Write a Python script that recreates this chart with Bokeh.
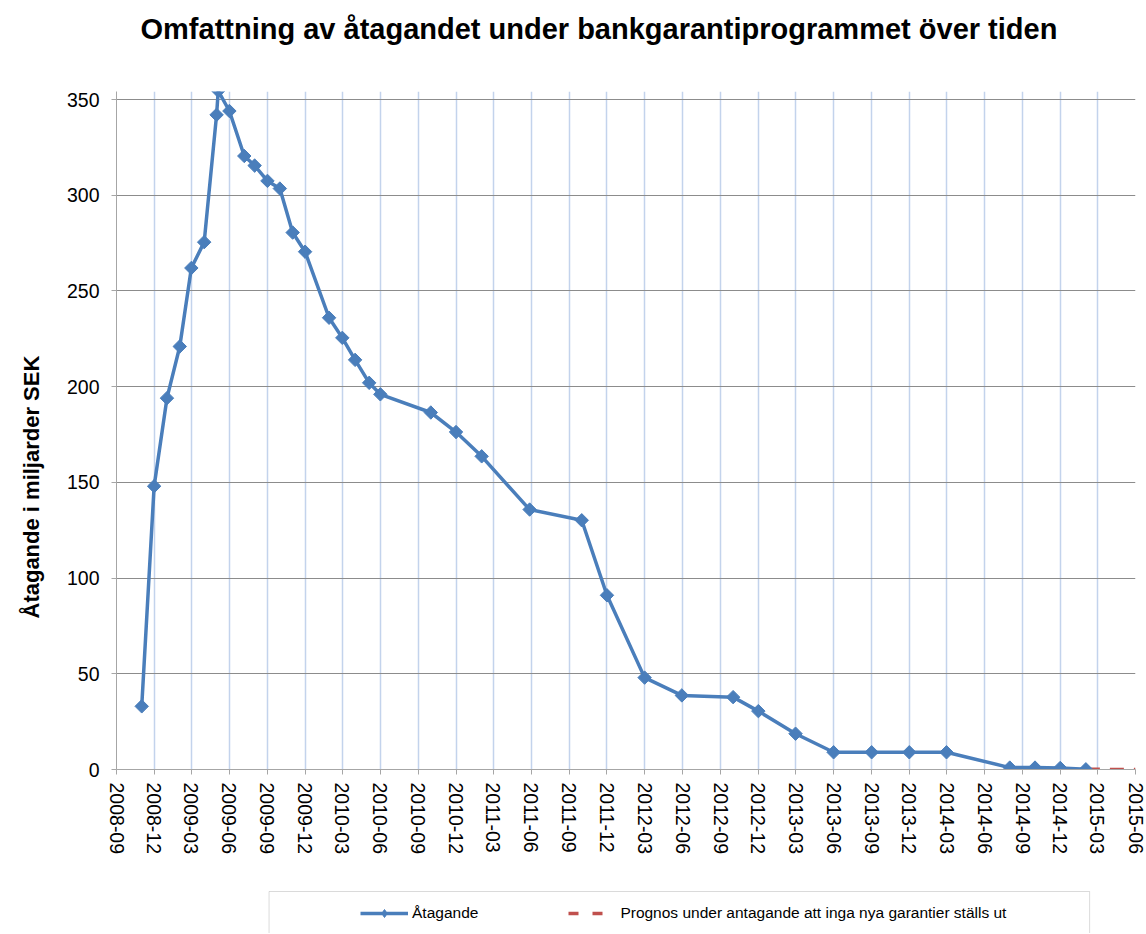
import math
from datetime import datetime

from bokeh.plotting import figure
from bokeh.layouts import column
from bokeh.models import (Range1d, FixedTicker, DatetimeTickFormatter, Legend,
                          LegendItem, BoxAnnotation, Title)
from bokeh.embed import file_html
from bokeh.resources import INLINE

# ---------------- data ----------------
title_text = "Omfattning av åtagandet under bankgarantiprogrammet över tiden"
y_label = "Åtagande i miljarder SEK"
series_names = ["Åtagande", "Prognos under antagande att inga nya garantier ställs ut"]

tick_labels = ["2008-09", "2008-12", "2009-03", "2009-06", "2009-09", "2009-12",
               "2010-03", "2010-06", "2010-09", "2010-12", "2011-03", "2011-06",
               "2011-09", "2011-12", "2012-03", "2012-06", "2012-09", "2012-12",
               "2013-03", "2013-06", "2013-09", "2013-12", "2014-03", "2014-06",
               "2014-09", "2014-12", "2015-03", "2015-06"]
y_ticks = [0, 50, 100, 150, 200, 250, 300, 350]

dates = ["2008-11-01", "2008-12-01", "2009-01-01", "2009-02-01", "2009-03-01",
         "2009-04-01", "2009-05-01", "2009-05-05", "2009-06-01", "2009-07-07",
         "2009-08-01", "2009-09-01", "2009-10-01", "2009-11-01", "2009-12-01",
         "2010-01-28", "2010-03-01", "2010-04-01", "2010-05-05", "2010-06-01",
         "2010-10-01", "2010-12-01", "2011-02-01", "2011-05-28", "2011-10-01",
         "2011-12-01", "2012-03-01", "2012-05-30", "2012-10-01", "2012-12-01",
         "2013-03-01", "2013-06-01", "2013-09-01", "2013-12-01", "2014-03-01",
         "2014-08-01", "2014-10-01", "2014-12-01", "2015-02-01"]
values = [33, 148, 194, 221, 262,
          275.5, 342, 354.5, 344, 320.5,
          315.5, 307.5, 303.5, 280.5, 270.5,
          236, 225.5, 214, 202, 196,
          186.5, 176.3, 163.6, 135.8, 130.2,
          91, 48, 38.7, 37.8, 30.5,
          18.7, 9, 9, 9, 9,
          1, 1, 0.8, 0.1]

prognos_dates = ["2015-02-01", "2015-06-01"]
prognos_values = [0.1, 0]

# ---------------- styling ----------------
BLUE = "#4A7EBB"
RED = "#C0504D"
FONT = "Liberation Sans"
W = 1146
LEFT = 113
RIGHT = 11
NAN = float("nan")


def to_dt(s):
    return datetime.strptime(s, "%Y-%m-%d")


x_dates = [to_dt(d) for d in dates]
p_dates = [to_dt(d) for d in prognos_dates]
tick_dt = [to_dt(t + "-01") for t in tick_labels]
tick_ms = [(t - datetime(1970, 1, 1)).total_seconds() * 1000.0 for t in tick_dt]

# ---------------- title strip ----------------
p0 = figure(width=W, height=50, output_backend="svg", toolbar_location=None,
            x_range=Range1d(0, 1), y_range=Range1d(0, 1),
            x_axis_location=None, y_axis_location=None,
            min_border_left=LEFT, min_border_right=RIGHT,
            min_border_top=48, min_border_bottom=0)
p0.outline_line_color = None
p0.grid.visible = False
p0.title.text = title_text
p0.title.text_font = FONT
p0.title.text_font_style = "bold"
p0.title.text_font_size = "29px"
p0.title.align = "left"
p0.title.offset = 24
p0.title.standoff = 8
p0.title.text_color = "black"

# ---------------- main chart ----------------
p = figure(width=W, height=835, x_axis_type="datetime",
           output_backend="svg", toolbar_location=None,
           x_range=Range1d(tick_dt[0], tick_dt[-1]),
           y_range=Range1d(0, 354.2),
           min_border_left=LEFT, min_border_right=RIGHT,
           min_border_top=41, min_border_bottom=116)
p.outline_line_color = None
p.background_fill_color = "white"
p.border_fill_color = "white"

xticker = FixedTicker(ticks=tick_ms)
p.xaxis.ticker = xticker
fmt = "%Y-%m"
p.xaxis.formatter = DatetimeTickFormatter(
    microseconds=fmt, milliseconds=fmt, seconds=fmt, minsec=fmt, minutes=fmt,
    hourmin=fmt, hours=fmt, days=fmt, months=fmt, years=fmt)
p.xaxis.major_label_orientation = -math.pi / 2
p.xaxis.major_label_standoff = 8

yticker = FixedTicker(ticks=y_ticks)
p.yaxis.ticker = yticker
p.yaxis.major_label_standoff = 12

for ax in (p.xaxis, p.yaxis):
    ax.axis_line_color = "#A6A6A6"
    ax.axis_line_width = 1
    ax.major_tick_line_color = "#A6A6A6"
    ax.major_tick_out = 5
    ax.major_tick_in = 0
    ax.minor_tick_out = 0
    ax.minor_tick_in = 0
    ax.major_label_text_font = FONT
    ax.major_label_text_font_size = "19.5px"
    ax.major_label_text_color = "black"

p.add_layout(Title(text=y_label, align="left", offset=151, vertical_align="top",
                   text_font=FONT, text_font_style="bold", text_font_size="22px",
                   text_color="black", standoff=36), "left")

p.xgrid.ticker = xticker
p.xgrid.grid_line_color = "#C3D3EC"
p.xgrid.grid_line_width = 1.5
p.ygrid.ticker = yticker
p.ygrid.grid_line_color = "#8C8C8C"
p.ygrid.grid_line_width = 1

p.line(p_dates, prognos_values, line_color=RED, line_width=3.5, line_dash="14 10")
p.line(x_dates, values, line_color=BLUE, line_width=3.5)
p.scatter(x_dates, values, marker="square", angle=math.pi / 4,
          size=9.5, fill_color=BLUE, line_color=BLUE)

# ---------------- legend strip ----------------
# data coordinates of this strip equal page pixels (x) / pixels above its bottom (y)
p2 = figure(width=W, height=48, output_backend="svg", toolbar_location=None,
            x_range=Range1d(LEFT, W - RIGHT), y_range=Range1d(0, 48),
            x_axis_location=None, y_axis_location=None,
            min_border_left=LEFT, min_border_right=RIGHT,
            min_border_top=0, min_border_bottom=0)
p2.outline_line_color = None
p2.grid.visible = False

box = BoxAnnotation(left=266, right=1089, top=42, bottom=-30,
                    fill_alpha=0, line_color="#868686", line_width=1)
p2.add_layout(box)

# legend proxies (no visible data; only their styles are shown in the legend)
leg_line = p2.line([NAN], [NAN], line_color=BLUE, line_width=3.5)
leg_pts = p2.scatter([NAN], [NAN], marker="diamond", size=9,
                     fill_color=BLUE, line_color=BLUE)
leg_red = p2.line([NAN], [NAN], line_color=RED, line_width=3.5, line_dash="10 14")

legend = Legend(items=[LegendItem(label=series_names[0], renderers=[leg_line, leg_pts]),
                       LegendItem(label=series_names[1], renderers=[leg_red])],
                orientation="horizontal", location=(357 - LEFT, 10),
                padding=0, margin=0, spacing=90, glyph_width=48,
                glyph_height=20, label_height=20, label_standoff=4,
                border_line_color=None, background_fill_alpha=0,
                label_text_font=FONT, label_text_font_size="15.5px",
                label_text_color="black")
p2.add_layout(legend, "center")

layout = column(p0, p, p2, spacing=0)
open("out.html", "w").write(file_html(layout, INLINE))
